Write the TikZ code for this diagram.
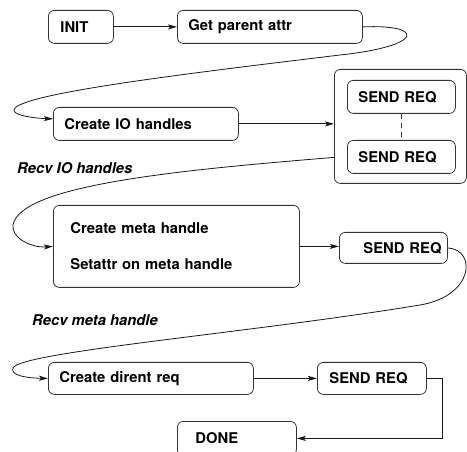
\documentclass[tikz,border=0pt]{standalone}
\usepackage{fontspec}
\setmainfont{TeX Gyre Heros}
\usetikzlibrary{arrows.meta,calc}

\tikzset{
  box/.style={draw=black!80, line width=0.8pt, rounded corners=6pt,
    anchor=north west, inner ysep=0pt, align=left,
    font=\fontsize{14.8}{17.4}\selectfont\bfseries},
  lbl/.style={anchor=west, inner sep=0pt,
    font=\fontsize{14.8}{17.4}\selectfont\bfseries\itshape},
  link/.style={draw=black!90, line width=0.8pt,
    -{Stealth[length=9pt,width=5pt,inset=2pt]}},
}

\begin{document}
\begin{tikzpicture}[x=1pt,y=-1pt]
\useasboundingbox (0,0) rectangle (467,452);

% first row
\node[box, text width=41pt,  inner xsep=12pt, minimum height=33pt] (init) at (48,10)  {INIT};
\node[box, text width=163pt, inner xsep=11pt, minimum height=33pt] (gpa)  at (177,10) {Get parent attr};

% IO handles and the group of requests
\node[box, text width=163pt, inner xsep=11pt, minimum height=33pt] (gio)  at (53,107) {Create IO handles};
\node[box, inner sep=0pt, minimum width=132pt, minimum height=114pt] (grp) at (334,69) {};
\node[box, text width=86pt, inner xsep=11pt, minimum height=33pt] (sr1) at (347,80)  {SEND REQ};
\node[box, text width=86pt, inner xsep=11pt, minimum height=33pt] (sr2) at (347,140) {SEND REQ};
\node[lbl] (recvio) at (17,168) {Recv IO handles};

% meta handle
\node[box, text width=212pt, inner xsep=17pt, minimum height=82pt] (meta) at (53,205)
  {Create meta handle\\[19pt]Setattr on meta handle};
\node[box, text width=60pt, inner xsep=24pt, minimum height=31pt] (sr3) at (339,232) {\mbox{SEND REQ}};
\node[lbl] (recvmeta) at (32,320) {Recv meta handle};

% dirent request
\node[box, text width=183pt, inner xsep=11pt, minimum height=32pt] (cdr)  at (48,362)  {Create dirent req};
\node[box, text width=85pt,  inner xsep=12pt, minimum height=32pt] (sr4)  at (317,362) {SEND REQ};
\node[box, text width=83pt,  inner xsep=18pt, minimum height=34pt] (done) at (177,421) {DONE};

% straight connectors
\draw[link] (init) -- (gpa);
\draw[link] (gio.east) -- (gio.east -| grp.west);
\draw[link] (meta.east) -- (meta.east -| sr3.west);
\draw[link] (cdr) -- (sr4);
\draw[link] (sr4.east) -- ++(16,0) |- (done.east);
\draw[draw=black!80, line width=0.8pt, dash pattern=on 5pt off 4pt] (sr1.south) -- (sr2.north);

% looping connectors back to the left margin
\draw[link] (gpa.east) .. controls (425,24) and (425,46) .. (340,55)
  .. controls (200,72) and (30,92) .. (15,108)
  .. controls (9,114.4) and (30,118) .. ($(gio.west)+(0,-5)$);
\draw[link] ($(grp.west)+(0,31)$) .. controls (180,170) and (20,185) .. (13,225)
  .. controls (11,237) and (30,248) .. (meta.west);
\draw[link] (sr3.east) .. controls (477,250) and (474,296) .. (420,305)
  .. controls (250,333) and (20,352) .. (13,368)
  .. controls (10,375) and (25,378) .. (cdr.west);
\end{tikzpicture}
\end{document}
